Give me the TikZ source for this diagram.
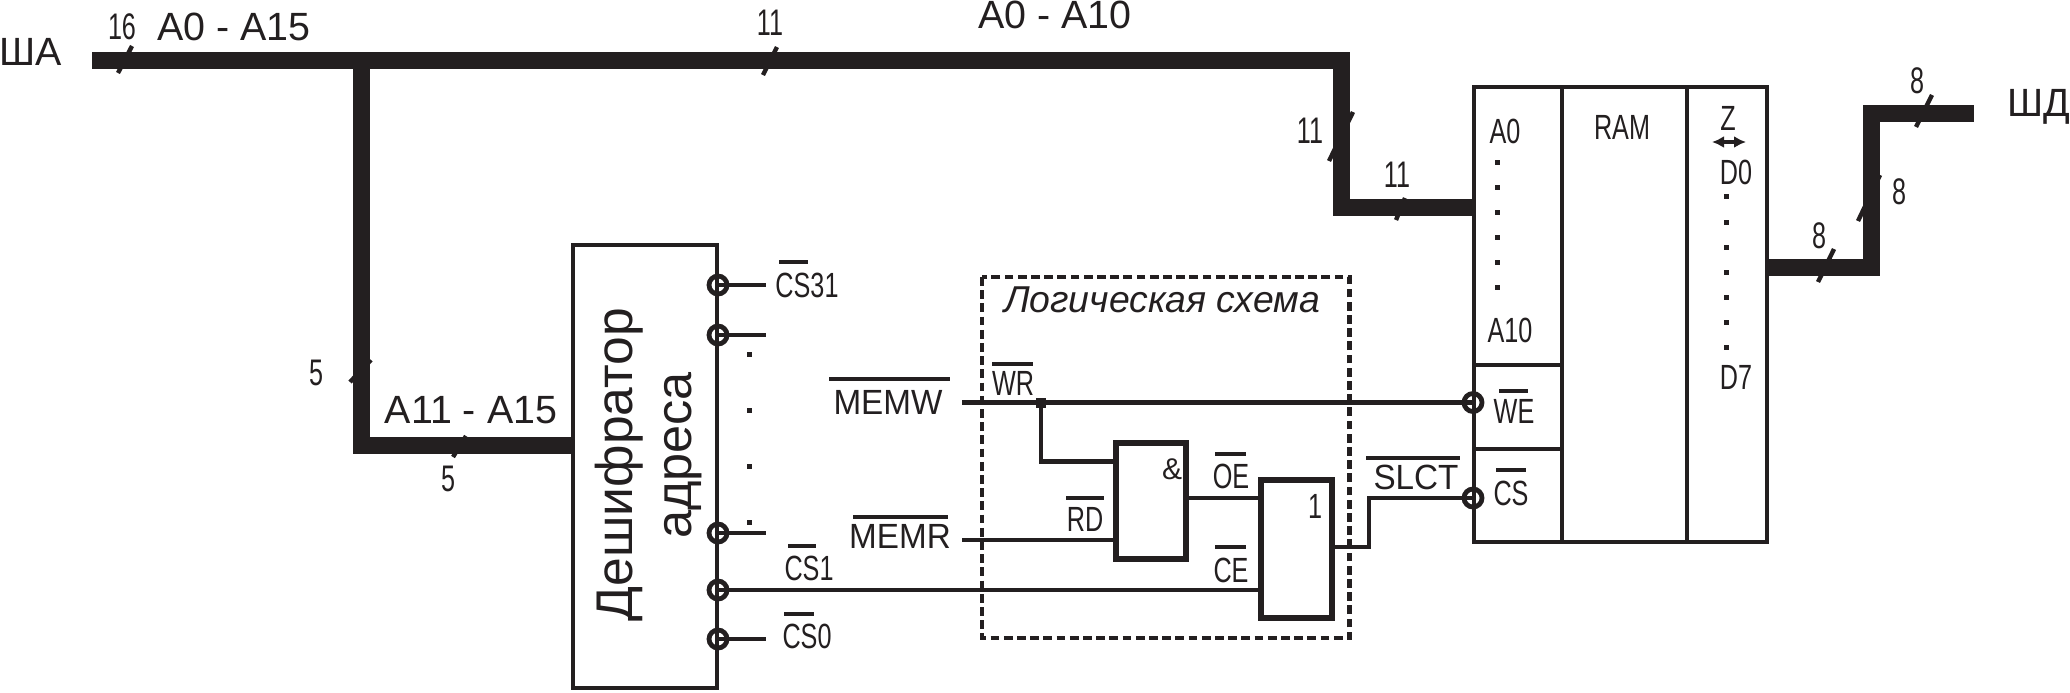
\documentclass[tikz,border=0pt]{standalone}
\usepackage{fontspec}
\usetikzlibrary{arrows.meta,shapes.geometric}
\setmainfont{Liberation Sans}
\newfontfamily\narf[FakeStretch=0.72]{Liberation Sans}
\newfontfamily\numf[FakeStretch=0.68]{Liberation Sans}
\newfontfamily\memf[FakeStretch=0.95]{Liberation Sans}
\definecolor{ink}{HTML}{231F20}
\tikzset{
  x=0.5pt,y=-0.5pt,
  txt/.style={inner sep=0pt,outer sep=0pt,anchor=base,text=ink},
  big/.style={txt,font=\fontsize{19.7pt}{22pt}\selectfont},
  mem/.style={txt,font=\memf\fontsize{17.5pt}{19pt}\selectfont},
  nar/.style={txt,font=\narf\fontsize{17.5pt}{19pt}\selectfont},
  num/.style={txt,font=\numf\fontsize{18.5pt}{20pt}\selectfont},
  bus/.style={line width=8.5pt,line join=miter,ink},
  wire/.style={line width=2.2pt,ink},
  tick/.style={line width=2.2pt,ink},
  ovl/.style={line width=2.4pt,ink},
  blk/.style={draw=ink,line width=2.2pt,inner sep=0pt,outer sep=0pt},
  gate/.style={draw=ink,line width=3pt,inner sep=0pt,outer sep=0pt},
  pin/.style={draw=ink,line width=2.4pt,ellipse,minimum width=9pt,minimum height=9pt,inner sep=0pt},
}
\newcommand{\dotm}[2]{\fill[ink] (#1-2.5,#2-2.5) rectangle (#1+2.5,#2+2.5);}
\begin{document}
\begin{tikzpicture}
\useasboundingbox (0,0) rectangle (2070,692);
% blocks
\node[blk,minimum width=72pt,minimum height=221.5pt] (dec) at (645,466.5) {};
\node[blk,minimum width=146.5pt,minimum height=227.5pt] (ram) at (1620.5,314.5) {};
\node[gate,minimum width=35pt,minimum height=58pt] (and) at (1151,501) {};
\node[gate,minimum width=35.5pt,minimum height=69pt] (or) at (1296.5,549) {};
\draw[blk] (1562,87) coordinate (d1t) -- (1562,542) coordinate (d1b);
\draw[blk] (1687,87) coordinate (d2t) -- (1687,542) coordinate (d2b);
\draw[blk] (ram.west |- 0,365) coordinate (h1l) -- (d1t |- h1l);
\draw[blk] (ram.west |- 0,449) coordinate (h2l) -- (d1t |- h2l);
\draw[line width=2.4pt,ink,dash pattern=on 4.4pt off 2.2pt] (982,277) rectangle (1349.5,638);
% coordinates
\coordinate (sha) at (92,60);
\coordinate (tj) at (361.5,60);
\coordinate (bc1) at (361.5,445.5);
\coordinate (decin) at (573,445.5);
\coordinate (bc2) at (1341.5,60);
\coordinate (bc3) at (1341.5,207.5);
\coordinate (ramin) at (1473,207.5);
\coordinate (ramout) at (1767,267);
\coordinate (db1) at (1871,267);
\coordinate (db2) at (1871,113);
\coordinate (shd) at (1974,113);
\coordinate (pm) at (962,402.5);
\coordinate (jn) at (1041,402.5);
\coordinate (pw) at (1473,402.5);
\coordinate (pc) at (1473,498);
\coordinate (andi1) at (1114,461.5);
\coordinate (pr) at (962,540);
\coordinate (andi2) at (1114,540);
\coordinate (ando) at (1186,498);
\coordinate (ori1) at (1261,498);
\coordinate (ori2) at (1261,590);
\coordinate (oro) at (1332,547);
\coordinate (oe) at (1369,547);
\coordinate (oc) at (1369,498);
% buses
\draw[bus] (sha) -- (bc2) -- (bc3) -- (ramin);
\draw[bus] (tj) -- (bc1) -- (decin);
\draw[bus] (ramout) -- (db1) -- (db2) -- (shd);
% pins of decoder
\foreach \n/\yy in {a/285,b/335,c/533,d/590,e/639}{
  \coordinate (dp\n) at (718,\yy);
  \node[pin] (pin\n) at (dp\n) {};
}
\foreach \n in {a,b,c,e}{\coordinate (dq\n) at (766,0 |- dp\n); \draw[wire] (dp\n) -- (dq\n);}
\node[pin] (pinw) at (pw) {};
\node[pin] (pinc) at (pc) {};
% wires
\draw[wire] (pm) -- (pw);
\draw[wire] (jn) |- (andi1);
\fill[ink] (1036,397.5) rectangle (1046,407.5);
\draw[wire] (pr) -- (andi2);
\draw[wire] (ando) -- (ori1);
\draw[wire] (dpd) -- (ori2);
\draw[wire] (oro) -- (oe) -- (oc) -- (pc);
% ticks
\draw[tick] (118,73) -- (132,46);
\draw[tick] (763,75) -- (777,47);
\draw[tick] (350,382) -- (371,360);
\draw[tick] (453,457) -- (466,436);
\draw[tick] (1329,161) -- (1353,112);
\draw[tick] (1396,220) -- (1405,198);
\draw[tick] (1818,282) -- (1834,249);
\draw[tick] (1858,221) -- (1880,175);
\draw[tick] (1916,127) -- (1932,95);
% dots
\foreach \yy in {354,410,466,522}{\dotm{749}{\yy}}
\foreach \yy in {162,187,212,237,262,287}{\dotm{1497}{\yy}}
\foreach \yy in {196,222,247,272,297,322,347}{\dotm{1726}{\yy}}
% bars
\draw[ovl] (779,262) -- (808,262);
\draw[ovl] (829,379) -- (950,379);
\draw[ovl] (853,517) -- (948,517);
\draw[ovl] (992,364) -- (1033,364);
\draw[ovl] (788,546) -- (816,546);
\draw[ovl] (784,614) -- (814,614);
\draw[ovl] (1066,498) -- (1104,498);
\draw[ovl] (1215,454) -- (1246,454);
\draw[ovl] (1215,547) -- (1246,547);
\draw[ovl] (1366,458) -- (1460,458);
\draw[ovl] (1499,391) -- (1528,391);
\draw[ovl] (1496,470) -- (1526,470);
% double arrow
\coordinate (zl) at (1712,142); \coordinate (zr) at (1746,142);
\draw[line width=2pt,ink,{Latex[length=6pt,width=6pt]}-{Latex[length=6pt,width=6pt]}] (zl) -- (zr);
% texts
\node[big] (tsha) at (31,65) {ША};
\node[big] (tshd) at (2039,116) {ШД};
\node[big] (ta15) at (234,40) {A0 - A15};
\node[big] (ta10) at (1055,28) {A0 - A10};
\node[big] (ta11) at (471,423) {A11 - A15};
\node[num] (n16) at (122,39) {16};
\node[num] (n11a) at (770,35) {11};
\node[num] (n5a) at (316,385) {5};
\node[num] (n5b) at (448,491) {5};
\node[num] (n11b) at (1310,143) {11};
\node[num] (n11c) at (1397,187) {11};
\node[num] (n8a) at (1819,248) {8};
\node[num] (n8b) at (1899,204) {8};
\node[num] (n8c) at (1917,93) {8};
\node[nar] (tcs31) at (807,297) {CS31};
\node[nar] (tcs1) at (809,580) {CS1};
\node[nar] (tcs0) at (807,648) {CS0};
\node[mem] (tmemw) at (888,414) {MEMW};
\node[mem] (tmemr) at (900,548) {MEMR};
\node[nar] (twr) at (1013,395) {WR};
\node[nar] (trd) at (1085,531) {RD};
\node[nar] (toe) at (1231,488) {OE};
\node[nar] (tce) at (1231,582) {CE};
\node[mem] (tslct) at (1416,489) {SLCT};
\node[txt,font=\fontsize{15pt}{17pt}\selectfont] (tand) at (1172,479) {\&};
\node[nar] (tone) at (1315,518) {1};
\node[txt,font=\itshape\fontsize{18.7pt}{20pt}\selectfont] (tlog) at (1162,312) {Логическая схема};
\node[nar] (ta0) at (1505,143.5) {A0};
\node[nar] (ta1) at (1510,342) {A10};
\node[nar] (twe) at (1514,423) {WE};
\node[nar] (tcs) at (1511,505) {CS};
\node[nar] (tram) at (1622,139) {RAM};
\node[nar] (tz) at (1728,130) {Z};
\node[nar] (td0) at (1736,184) {D0};
\node[nar] (td7) at (1736,389) {D7};
\node[txt,rotate=90,font=\fontsize{25.8pt}{28pt}\selectfont] (tdec1) at (632,464.5) {Дешифратор};
\node[txt,rotate=90,font=\fontsize{25.2pt}{28pt}\selectfont] (tdec2) at (691,455.5) {адреса};
\end{tikzpicture}
\end{document}
